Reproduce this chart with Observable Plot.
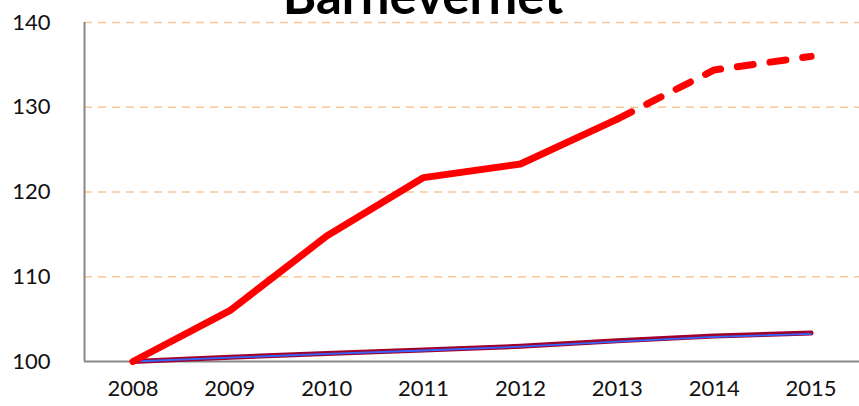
<!DOCTYPE html>
<html>
<head>
<meta charset="utf-8">
<script src="https://cdn.jsdelivr.net/npm/d3@7"></script>
<script src="https://cdn.jsdelivr.net/npm/@observablehq/plot@0.6"></script>
<style>
  html, body { margin: 0; padding: 0; background: #fff; }
  #chart { width: 859px; height: 406px; overflow: hidden; }
</style>
</head>
<body>
<div id="chart"></div>
<script>
const title = "Barnevernet";
const years = [2008, 2009, 2010, 2011, 2012, 2013, 2014, 2015];
const barnevernet = [100, 106.0, 114.8, 121.7, 123.3, 128.6, 134.4, 136.0];
const series2 = [100, 100.5, 100.95, 101.35, 101.8, 102.45, 103.0, 103.35];
const series3 = [100, 100.45, 100.9, 101.3, 101.75, 102.35, 102.9, 103.25];
const yTicks = [100, 110, 120, 130, 140];
const gridTicks = [110, 120, 130, 140];
const lastActualYear = 2013;

const rows = (vals) => years.map((y, i) => ({year: y, value: vals[i]}));
const mainRows = rows(barnevernet);
const solidRows = mainRows.filter(d => d.year <= lastActualYear);
const dashedRows = mainRows.filter(d => d.year >= lastActualYear);

const chart = Plot.plot({
  width: 859,
  height: 406,
  marginLeft: 84,
  marginRight: 0,
  marginTop: 22,
  marginBottom: 45,
  style: {fontFamily: "Lato, 'Liberation Sans', sans-serif", fontSize: "22px", color: "#111", background: "#fff"},
  x: {domain: [2007.5, 2015.5], ticks: years, tickFormat: d => String(d), tickSize: 0, tickPadding: 19, label: null},
  y: {domain: [100, 140], ticks: yTicks, tickSize: 0, tickPadding: 34, label: null},
  marks: [
    Plot.ruleY(gridTicks, {stroke: "#f9c896", strokeWidth: 1.5, strokeDasharray: "8,6"}),
    Plot.ruleX([2007.5], {stroke: "#888", strokeWidth: 2}),
    Plot.ruleY([100], {stroke: "#888", strokeWidth: 2}),
    Plot.line(rows(series2), {x: "year", y: "value", stroke: "#a0002a", strokeWidth: 5, strokeLinecap: "round"}),
    Plot.line(rows(series3), {x: "year", y: "value", stroke: "#3366ff", strokeWidth: 1.8, strokeLinecap: "round"}),
    Plot.line(solidRows, {x: "year", y: "value", stroke: "#ff0000", strokeWidth: 7, strokeLinecap: "round", strokeLinejoin: "round"}),
    Plot.line(dashedRows, {x: "year", y: "value", stroke: "#ff0000", strokeWidth: 7, strokeLinecap: "round", strokeLinejoin: "round", strokeDasharray: "16,17"}),
    Plot.text([title], {frameAnchor: "top", lineAnchor: "bottom", dx: -49, dy: -9, fontSize: 51, fontWeight: "bold", fill: "#000", fontFamily: "Lato, 'Liberation Sans', sans-serif"})
  ]
});
document.getElementById("chart").appendChild(chart);
</script>
</body>
</html>
